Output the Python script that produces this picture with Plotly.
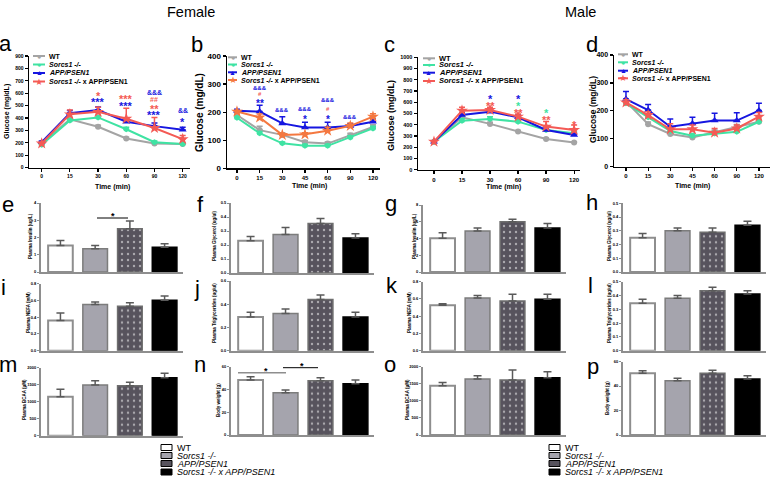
import plotly.graph_objects as go

W, H = 778, 481
def X(px): return px / W
def Y(py): return 1 - py / H

FONT = "Liberation Sans, Arial, sans-serif"

# ---------------- data ----------------
time_6 = ["0", "15", "30", "60", "90", "120"]
time_7 = ["0", "15", "30", "45", "60", "90", "120"]
legend_names = ["WT", "<i>Sorcs1 -/-</i>", "<i>APP/PSEN1</i>", "<i>Sorcs1 -/-</i> x APP/PSEN1"]

# (a) Female GTT
a_wt = [195, 390, 330, 235, 195, 190];      a_wt_err = [8, 12, 12, 10, 8, 8]
a_sorcs = [185, 380, 405, 310, 205, 190];   a_sorcs_err = [8, 12, 15, 15, 10, 8]
a_app = [205, 440, 465, 370, 335, 305];     a_app_err = [10, 20, 25, 15, 25, 20]
a_sxa = [195, 430, 450, 395, 320, 230];     a_sxa_err = [10, 35, 37, 85, 85, 30]
# (b) Female ITT
b_wt = [190, 136, 119, 93, 88, 117, 147];   b_wt_err = [8, 14, 8, 6, 6, 8, 8]
b_sorcs = [180, 125, 89, 80, 80, 110, 142]; b_sorcs_err = [6, 6, 5, 6, 6, 6, 8]
b_app = [205, 202, 160, 145, 145, 151, 166]; b_app_err = [5, 23, 24, 19, 19, 8, 10]
b_sxa = [202, 181, 119, 121, 134, 151, 184]; b_sxa_err = [5, 12, 6, 6, 12, 10, 10]
# (c) Male GTT
c_wt = [250, 467, 408, 340, 274, 242];      c_wt_err = [8, 15, 15, 10, 8, 8]
c_sorcs = [250, 437, 452, 428, 354, 325];   c_sorcs_err = [8, 20, 20, 20, 15, 15]
c_app = [250, 488, 517, 467, 354, 310];     c_app_err = [8, 20, 15, 20, 15, 15]
c_sxa = [250, 526, 532, 473, 384, 354];     c_sxa_err = [8, 30, 24, 24, 45, 45]
# (d) Male ITT
d_wt = [233, 152, 117, 105, 123, 143, 161]; d_wt_err = [8, 8, 8, 6, 8, 8, 8]
d_sorcs = [227, 177, 128, 111, 119, 125, 161]; d_sorcs_err = [8, 8, 8, 8, 8, 8, 8]
d_app = [242, 203, 143, 155, 165, 165, 201]; d_app_err = [27, 20, 28, 22, 26, 28, 26]
d_sxa = [230, 185, 134, 134, 122, 137, 179]; d_sxa_err = [10, 12, 20, 15, 15, 12, 15]

# bar panels: WT, Sorcs1-/-, APP/PSEN1, Sorcs1-/- x APP/PSEN1
e_vals = [1.54, 1.35, 2.5, 1.43];      e_err = [0.29, 0.19, 0.45, 0.21]
f_vals = [0.23, 0.275, 0.353, 0.25];   f_err = [0.03, 0.05, 0.037, 0.03]
g_vals = [4.03, 4.9, 6.0, 5.25];       g_err = [0.67, 0.35, 0.3, 0.55]
h_vals = [0.25, 0.30, 0.29, 0.34];     h_err = [0.03, 0.02, 0.03, 0.03]
i_vals = [0.36, 0.55, 0.53, 0.60];     i_err = [0.09, 0.03, 0.04, 0.05]
j_vals = [0.29, 0.32, 0.44, 0.29];     j_err = [0.04, 0.04, 0.04, 0.04]
k_vals = [0.527, 0.61, 0.577, 0.596];  k_err = [0.018, 0.03, 0.077, 0.058]
l_vals = [0.343, 0.38, 0.435, 0.41];   l_err = [0.03, 0.02, 0.025, 0.025]
m_vals = [1147, 1490, 1470, 1705];     m_err = [218, 128, 100, 130]
n_vals = [48.2, 37.1, 47.6, 45.0];     n_err = [2.9, 2.4, 2.7, 3.2]
o_vals = [1442, 1637, 1608, 1675];     o_err = [98, 97, 292, 175]
p_vals = [50.4, 44.3, 50.4, 45.7];     p_err = [2.1, 2.0, 2.4, 2.7]

# ---------------- styling ----------------
GRAY = '#a4a4a4'; GREEN = '#3fe3a3'; BLUE = '#1616e0'; RED = '#f45a55'; ORANGE = '#f47840'
SYMBOLS = ['circle', 'hexagon', 'triangle-up', 'star']
MSIZE = [6, 6, 7, 9]

fig = go.Figure()
layout = dict(width=W, height=H, margin=dict(l=0, r=0, t=0, b=0, autoexpand=False),
              paper_bgcolor='white', plot_bgcolor='white', showlegend=False,
              font=dict(family=FONT, color='black'))
annotations = []
shapes = []

def ann(x, y, text, size, color='black', xanchor='center', yanchor='middle',
        angle=0, weight='normal', xref='paper', yref='paper', yshift=0):
    if xref == 'paper':
        x = X(x)
    if yref == 'paper':
        y = Y(y)
    annotations.append(dict(x=x, y=y, xref=xref, yref=yref, text=text, showarrow=False,
                            xanchor=xanchor, yanchor=yanchor, textangle=angle, yshift=yshift,
                            font=dict(size=size, color=color, family=FONT, weight=weight)))

# ---------------- line panels ----------------
line_panels = [
    dict(times=time_6, series=[(a_wt, a_wt_err), (a_sorcs, a_sorcs_err), (a_app, a_app_err), (a_sxa, a_sxa_err)],
         sxa=RED, xdom=(29, 190), ydom=(167.7, 56), xr=(-0.45, 5.26), ymax=900, dtick=100,
         ytf=5, xtf=5, ttl=(7, 112, 7), tm=(112, 187, 7),
         leg=dict(l0=33, l1=45, tx=47, rows=[56, 64.5, 73, 81.5], fs=7),
         marks=[(2, 605, '*', RED), (2, 551, '***', BLUE), (3, 578, '***', RED), (3, 524, '***', BLUE),
                (4, 605, '&&&', BLUE), (4, 546, '##', RED), (4, 497, '**', RED), (4, 452, '***', BLUE),
                (5, 460, '&&', BLUE), (5, 393, '*', BLUE)], starfs=11, ampfs=7),
    dict(times=time_7, series=[(b_wt, b_wt_err), (b_sorcs, b_sorcs_err), (b_app, b_app_err), (b_sxa, b_sxa_err)],
         sxa=ORANGE, xdom=(227, 380), ydom=(168.3, 56), xr=(-0.44, 6.31), ymax=400, dtick=100,
         ytf=8, xtf=6, ttl=(200, 113, 10), tm=(309, 186, 7),
         leg=dict(l0=228, l1=237, tx=239, rows=[57.3, 64.5, 72.3, 80], fs=7),
         marks=[(1, 285, '&&&', BLUE), (1, 265, '#', RED), (1, 240, '**', BLUE), (2, 208, '&&&', BLUE),
                (3, 210, '&&&', BLUE), (3, 184, '*', BLUE), (4, 243, '&&&', BLUE), (4, 210, '#', RED),
                (4, 184, '*', BLUE), (5, 184, '&&&', BLUE)], starfs=10, ampfs=6),
    dict(times=time_6, series=[(c_wt, c_wt_err), (c_sorcs, c_sorcs_err), (c_app, c_app_err), (c_sxa, c_sxa_err)],
         sxa=RED, xdom=(418, 580), ydom=(169.8, 57.3), xr=(-0.57, 5.21), ymax=1000, dtick=100,
         ytf=5.5, xtf=6, ttl=(391, 116, 9), tm=(504, 187, 7),
         leg=dict(l0=423, l1=435, tx=437, rows=[58.3, 65, 72.7, 81], fs=7.5),
         marks=[(2, 657, '*', BLUE), (2, 598, '**', RED), (3, 657, '*', BLUE), (3, 598, '*', GREEN),
                (3, 532, '**', RED), (4, 532, '*', GREEN), (4, 467, '**', RED), (5, 428, '*', RED)],
         starfs=11, ampfs=7),
    dict(times=time_7, series=[(d_wt, d_wt_err), (d_sorcs, d_sorcs_err), (d_app, d_app_err), (d_sxa, d_sxa_err)],
         sxa=RED, xdom=(614, 770), ydom=(166.7, 55), xr=(-0.54, 6.5), ymax=400, dtick=100,
         ytf=7, xtf=6, ttl=(593, 110, 8.5), tm=(692, 186, 7),
         leg=dict(l0=618, l1=628, tx=630, rows=[54.3, 62.3, 70.7, 78.3], fs=7),
         marks=[], starfs=11, ampfs=7),
]

for pi, p in enumerate(line_panels):
    k = pi + 1
    xa = 'x' if k == 1 else f'x{k}'
    ya = 'y' if k == 1 else f'y{k}'
    colors = [GRAY, GREEN, BLUE, p['sxa']]
    n = len(p['times'])
    xs = list(range(n))
    for si, (vals, err) in enumerate(p['series']):
        fig.add_trace(go.Scatter(
            x=xs, y=vals, mode='lines+markers', xaxis=xa, yaxis=ya,
            line=dict(color=colors[si], width=2),
            marker=dict(symbol=SYMBOLS[si], size=MSIZE[si], color=colors[si]),
            error_y=dict(type='data', array=err, arrayminus=[0] * n, symmetric=False,
                         color=colors[si], thickness=1.5, width=3),
            cliponaxis=False))
    axis_common = dict(showline=True, linecolor='black', linewidth=1.5, ticks='outside',
                       ticklen=3, tickwidth=1.2, tickcolor='black', showgrid=False, zeroline=False,
                       automargin=False)
    layout['xaxis' if k == 1 else f'xaxis{k}'] = dict(
        axis_common, domain=[X(p['xdom'][0]), X(p['xdom'][1])], range=list(p['xr']),
        anchor=ya, tickvals=xs, ticktext=p['times'],
        tickfont=dict(size=p['xtf'], family=FONT, weight='bold'))
    layout['yaxis' if k == 1 else f'yaxis{k}'] = dict(
        axis_common, domain=[Y(p['ydom'][0]), Y(p['ydom'][1])], range=[0, p['ymax']],
        anchor=xa, tickvals=list(range(0, p['ymax'] + 1, p['dtick'])),
        tickfont=dict(size=p['ytf'], family=FONT, weight='bold'))
    tx, ty, tfs = p['ttl']
    ann(tx, ty, 'Glucose (mg/dL)', tfs, angle=-90, weight='bold')
    mx, my, mfs = p['tm']
    ann(mx, my, 'Time (min)', mfs, weight='bold')
    # inset legend
    lg = p['leg']
    glyphs = ['●', '●', '▲', '★']
    gsz = [7, 7, 7, 9]
    for si in range(4):
        ry = lg['rows'][si]
        shapes.append(dict(type='line', xref='paper', yref='paper', x0=X(lg['l0']), x1=X(lg['l1']),
                           y0=Y(ry), y1=Y(ry), line=dict(color=colors[si], width=2)))
        ann((lg['l0'] + lg['l1']) / 2, ry, glyphs[si], gsz[si], color=colors[si])
        ann(lg['tx'], ry, legend_names[si], lg['fs'], xanchor='left', weight='bold')
    # significance marks
    for (ix, yv, txt, col) in p['marks']:
        if '*' in txt:
            ann(ix, yv, txt, p['starfs'], color=col, xref=xa, yref=ya, yshift=-3, weight='bold')
        else:
            ann(ix, yv, txt, p['ampfs'], color=col, xref=xa, yref=ya, weight='bold')

# ---------------- bar panels ----------------
col_dom = [(41, 183), (231, 374), (423, 566), (623, 766)]
bar_panels = [
    ('e', 0, (272, 203), e_vals, e_err, 4, 1, '.0f', 'Plasma Insulin (ug/L)', (30, 236)),
    ('f', 1, (273, 203), f_vals, f_err, 0.5, 0.1, '.1f', 'Plasma Glycerol (ug/ul)', (214, 236)),
    ('g', 2, (272, 205), g_vals, g_err, 8, 2, '.0f', 'Plasma Insulin (ug/L)', (414, 236)),
    ('h', 3, (272, 203.3), h_vals, h_err, 0.5, 0.1, '.1f', 'Plasma Glycerol (ug/ul)', (609, 236)),
    ('i', 0, (350.7, 283.5), i_vals, i_err, 0.8, 0.2, '.1f', 'Plasma NEFA (mM)', (28, 313)),
    ('j', 1, (350.7, 281), j_vals, j_err, 0.6, 0.2, '.1f', 'Plasma Triglycerides (ug/ul)', (214, 313)),
    ('k', 2, (350.7, 281.7), k_vals, k_err, 0.8, 0.2, '.1f', 'Plasma NEFA (mM)', (409, 313)),
    ('l', 3, (350.7, 281.7), l_vals, l_err, 0.5, 0.1, '.1f', 'Plasma Triglycerides (ug/ul)', (609, 313)),
    ('m', 0, (435.7, 367.7), m_vals, m_err, 2000, 500, '.0f', 'Plasma BCAA (μM)', (24, 400)),
    ('n', 1, (435, 366.6), n_vals, n_err, 60, 20, '.0f', 'Body weight (g)', (218, 400)),
    ('o', 2, (435, 366.7), o_vals, o_err, 2000, 500, '.0f', 'Plasma BCAA (μM)', (407, 400)),
    ('p', 3, (435, 361.5), p_vals, p_err, 60, 20, '.0f', 'Body weight (g)', (607, 398)),
]
BAR_FILL = ['#ffffff', '#a5a4ad', '#57535d', '#000000']
BAR_LINE = ['#8e8e8e', '#7c7c7c', '#6e6e6e', '#000000']
AXG = '#8e8e8e'

for bi, (letter, col, ydom, vals, err, ymax, dt, fmt, title, tpos) in enumerate(bar_panels):
    k = bi + 5
    xa, ya = f'x{k}', f'y{k}'
    fig.add_trace(go.Bar(
        x=[0, 1, 2, 3], y=vals, width=0.71, xaxis=xa, yaxis=ya,
        marker=dict(color=BAR_FILL, line=dict(color=BAR_LINE, width=[2, 1.5, 1.5, 1.5]),
                    pattern=dict(shape=['', '', '.', ''], fgcolor='#3f8ee6', size=6,
                                 solidity=0.12, fillmode='overlay')),
        error_y=dict(type='data', array=err, arrayminus=[0] * 4, symmetric=False,
                     color='#5a5a5a', thickness=1.5, width=4)))
    layout[f'xaxis{k}'] = dict(domain=[X(col_dom[col][0]), X(col_dom[col][1])], range=[-0.56, 3.53],
                               anchor=ya, showline=True, linecolor=AXG, linewidth=2, ticks='',
                               showticklabels=False, showgrid=False, zeroline=False, automargin=False)
    nt = int(round(ymax / dt))
    tv = [round(i * dt, 6) for i in range(nt + 1)]
    layout[f'yaxis{k}'] = dict(domain=[Y(ydom[0]), Y(ydom[1])], range=[0, ymax], anchor=xa,
                               showline=True, linecolor=AXG, linewidth=2, ticks='outside',
                               ticklen=2, tickwidth=1, tickcolor=AXG, tickvals=tv, tickformat=fmt,
                               tickfont=dict(size=4, family=FONT, weight='bold'),
                               showgrid=False, zeroline=False, automargin=False)
    ann(tpos[0], tpos[1], title, 4.5, angle=-90, weight='bold')

# significance bars
shapes.append(dict(type='line', xref='paper', yref='paper', x0=X(97), x1=X(128), y0=Y(218), y1=Y(218),
                   line=dict(color='black', width=1)))
ann(113, 216, '*', 9, weight='bold')
shapes.append(dict(type='line', xref='paper', yref='paper', x0=X(238), x1=X(286), y0=Y(372.7), y1=Y(372.7),
                   line=dict(color='#8e8e8e', width=1.5)))
ann(266, 371, '*', 9, weight='bold')
shapes.append(dict(type='line', xref='paper', yref='paper', x0=X(283), x1=X(318), y0=Y(367.7), y1=Y(367.7),
                   line=dict(color='black', width=1)))
ann(302, 366, '*', 9, weight='bold')

# panel letters
letters = [('a', 5, 43), ('b', 197, 45), ('c', 390, 44), ('d', 592, 44),
           ('e', 8, 204), ('f', 200, 204), ('g', 391, 203), ('h', 592, 202),
           ('i', 3, 287), ('j', 197, 288), ('k', 392, 285), ('l', 590, 285),
           ('m', 8, 364), ('n', 200, 364), ('o', 390, 364), ('p', 593, 366)]
for t, x, y in letters:
    ann(x, y, t, 22)

# headings
ann(191, 12, 'Female', 14.5)
ann(580, 12, 'Male', 14.5)

# bottom legends
rows = [447.5, 455.5, 463.5, 472]
box_fill = ['#ffffff', '#a5a4ad', '#57535d', '#000000']
for bx in (161, 549):
    for ri, ry in enumerate(rows):
        shapes.append(dict(type='rect', xref='paper', yref='paper', x0=X(bx), x1=X(bx + 11),
                           y0=Y(ry + 3), y1=Y(ry - 3), fillcolor=box_fill[ri],
                           line=dict(color='black', width=1)))
        ann(bx + 14, ry, legend_names[ri] if ri != 3 else '<i>Sorcs1 -/- x APP/PSEN1</i>', 9,
            xanchor='left')

layout['annotations'] = annotations
layout['shapes'] = shapes
fig.update_layout(**layout)
fig.write_html("out.html", config={'displayModeBar': False, 'staticPlot': True},
               post_script="document.body.style.margin='0';document.body.style.overflow='hidden';")
